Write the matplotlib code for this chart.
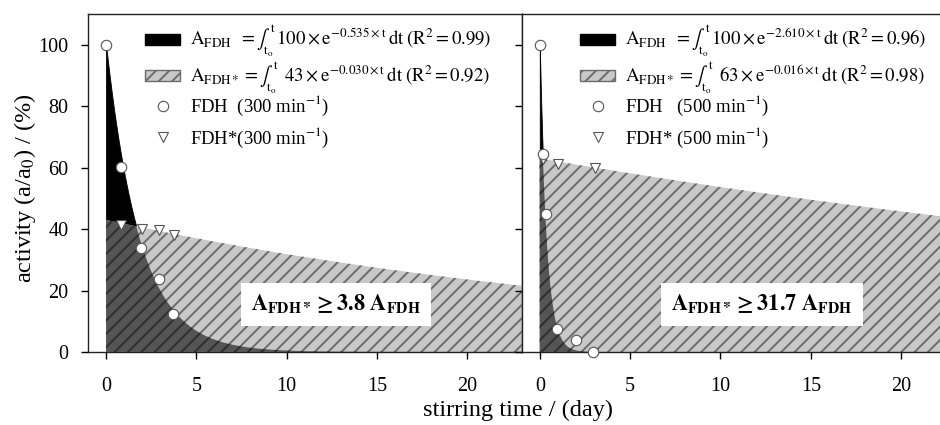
import numpy as np
import matplotlib
matplotlib.use("Agg")
import matplotlib.pyplot as plt
from matplotlib.patches import Patch
from matplotlib.lines import Line2D

DPI = 120
F = 100.0 / DPI  # point sizes below are written for a 100-dpi canvas

plt.rcParams["font.family"] = ["Liberation Serif", "DejaVu Serif"]
plt.rcParams["mathtext.fontset"] = "stix"
plt.rcParams["hatch.linewidth"] = 1.4 * F

# ---- measured activities, 300 min^-1 ----
t_fdh_300 = [0.0, 0.83, 1.92, 2.93, 3.73]
a_fdh_300 = [100.0, 60.3, 34.0, 23.9, 12.4]
t_fdhs_300 = [0.83, 1.97, 2.93, 3.76]
a_fdhs_300 = [41.4, 40.0, 39.6, 38.1]

# ---- measured activities, 500 min^-1 ----
t_fdh_500 = [0.0, 0.17, 0.37, 0.97, 1.98, 2.96]
a_fdh_500 = [100.0, 64.6, 44.8, 7.6, 3.8, 0.1]
t_fdhs_500 = [0.19, 1.02, 3.04]
a_fdhs_500 = [62.8, 61.3, 59.8]

# ---- exponential fits  a(t) = A0 * exp(-k t) ----
fit_300 = {"fdh": (100, 0.535), "fdhs": (43, 0.030)}
fit_500 = {"fdh": (100, 2.610), "fdhs": (63, 0.016)}
r2_300 = ("0.99", "0.92")
r2_500 = ("0.96", "0.98")
ratio_300 = "3.8"
ratio_500 = "31.7"

yticks = [0, 20, 40, 60, 80, 100]
xticks = [0, 5, 10, 15, 20]

LIGHT_FACE, LIGHT_HATCH = "#c8c8c8", "#6c6c6c"
DARK_FACE, DARK_HATCH = "#555555", "#2e2e2e"
MARK_EDGE = "#555555"
MS = 7.5 * F

W, H = 940.0, 425.0
fig = plt.figure(figsize=(W / DPI, H / DPI), dpi=DPI)
ax1 = fig.add_axes([88 / W, 73 / H, 433.7 / W, 338 / H])
ax2 = fig.add_axes([521.7 / W, 73 / H, 418.3 / W, 338 / H])


def panel(ax, fit, tmax, t_f, a_f, t_s, a_s):
    t = np.linspace(0, tmax, 2000)
    A0, k = fit["fdh"]
    B0, q = fit["fdhs"]
    y_f = A0 * np.exp(-k * t)
    y_s = B0 * np.exp(-q * t)
    ax.fill_between(t, 0, y_f, facecolor="black", edgecolor="black",
                    lw=0.6 * F, zorder=1)
    ax.fill_between(t, 0, y_s, facecolor=LIGHT_FACE, edgecolor=LIGHT_HATCH,
                    hatch="///", lw=0, zorder=2)
    ax.fill_between(t, 0, np.minimum(y_f, y_s), facecolor=DARK_FACE,
                    edgecolor=DARK_HATCH, hatch="///", lw=0, zorder=3)
    ax.plot(t_f, a_f, ls="none", marker="o", ms=MS, mfc="white", mec=MARK_EDGE,
            mew=0.8 * F, zorder=6, clip_on=False)
    ax.plot(t_s, a_s, ls="none", marker="v", ms=MS, mfc="white", mec=MARK_EDGE,
            mew=0.8 * F, zorder=5, clip_on=False)
    ax.set_ylim(0, 110)
    ax.set_yticks(yticks)
    ax.set_xticks(xticks)
    ax.tick_params(direction="out", length=5 * F, width=1.0 * F,
                   labelsize=14.5 * F, colors="black")
    ax.tick_params(axis="x", pad=13 * F)
    ax.tick_params(axis="y", pad=9 * F)
    for s in ax.spines.values():
        s.set_linewidth(1.0 * F)
        s.set_color("#222222")


panel(ax1, fit_300, 23.0, t_fdh_300, a_fdh_300, t_fdhs_300, a_fdhs_300)
ax1.set_xlim(-1, 23.0)
panel(ax2, fit_500, 22.2, t_fdh_500, a_fdh_500, t_fdhs_500, a_fdhs_500)
ax2.set_xlim(-1, 22.15)
ax2.tick_params(axis="y", labelleft=False)
ax2.spines["right"].set_visible(False)


def legend(ax, fit, r2, speed, gap_a, gap_b, x0):
    (A0, k), (B0, q) = fit["fdh"], fit["fdhs"]
    area_labels = [
        r"$\mathrm{A_{FDH}}\;\;=\int_{\mathrm{t_o}}^{\mathrm{t}}\,%d\times\mathrm{e}^{-%.3f\times\mathrm{t}}\,\mathrm{dt}\;(\mathrm{R}^2=%s)$" % (A0, k, r2[0]),
        r"$\mathrm{A_{FDH*}}=\int_{\mathrm{t_o}}^{\mathrm{t}}\;\;%d\times\mathrm{e}^{-%.3f\times\mathrm{t}}\,\mathrm{dt}\;(\mathrm{R}^2=%s)$" % (B0, q, r2[1]),
    ]
    point_labels = [
        "FDH" + gap_a + r"(%d min$^{-1}$)" % speed,
        "FDH*" + gap_b + r"(%d min$^{-1}$)" % speed,
    ]
    area_handles = [
        Patch(facecolor="black", edgecolor="black", lw=1.0 * F),
        Patch(facecolor=LIGHT_FACE, edgecolor=LIGHT_HATCH, hatch="///", lw=1.0 * F),
    ]
    point_handles = [
        Line2D([], [], ls="none", marker="o", ms=MS, mfc="white", mec=MARK_EDGE, mew=0.8 * F),
        Line2D([], [], ls="none", marker="v", ms=MS, mfc="white", mec=MARK_EDGE, mew=0.8 * F),
    ]
    common = dict(loc="upper left", frameon=False, fontsize=13.5 * F,
                  handlelength=1.9, handleheight=0.55, handletextpad=0.5,
                  borderaxespad=0, borderpad=0)
    leg1 = ax.legend(area_handles, area_labels, bbox_to_anchor=(x0, 0.973),
                     labelspacing=0.0, **common)
    ax.add_artist(leg1)
    ax.legend(point_handles, point_labels, bbox_to_anchor=(x0, 0.764),
              labelspacing=0.4, **common)


legend(ax1, fit_300, r2_300, 300, "  ", "", 0.131)
legend(ax2, fit_500, r2_500, 500, "   ", " ", 0.139)

box = dict(boxstyle="square,pad=0.45", facecolor="white", edgecolor="none")
ax1.text(12.7, 15.4, r"$\mathbf{A_{FDH*}\geq %s\ A_{FDH}}$" % ratio_300,
         ha="center", va="center", fontsize=16 * F, bbox=box, zorder=8)
ax2.text(12.3, 15.4, r"$\mathbf{A_{FDH*}\geq %s\ A_{FDH}}$" % ratio_500,
         ha="center", va="center", fontsize=16 * F, bbox=box, zorder=8)

fig.text(25 / W, 1 - 188 / H, r"activity (a/a$_0$) / (%)", rotation=90,
         ha="center", va="center", fontsize=17.5 * F)
fig.text(518 / W, 1 - 410 / H, "stirring time / (day)", ha="center",
         va="center", fontsize=17.5 * F)

fig.savefig("out.png", dpi=DPI)
